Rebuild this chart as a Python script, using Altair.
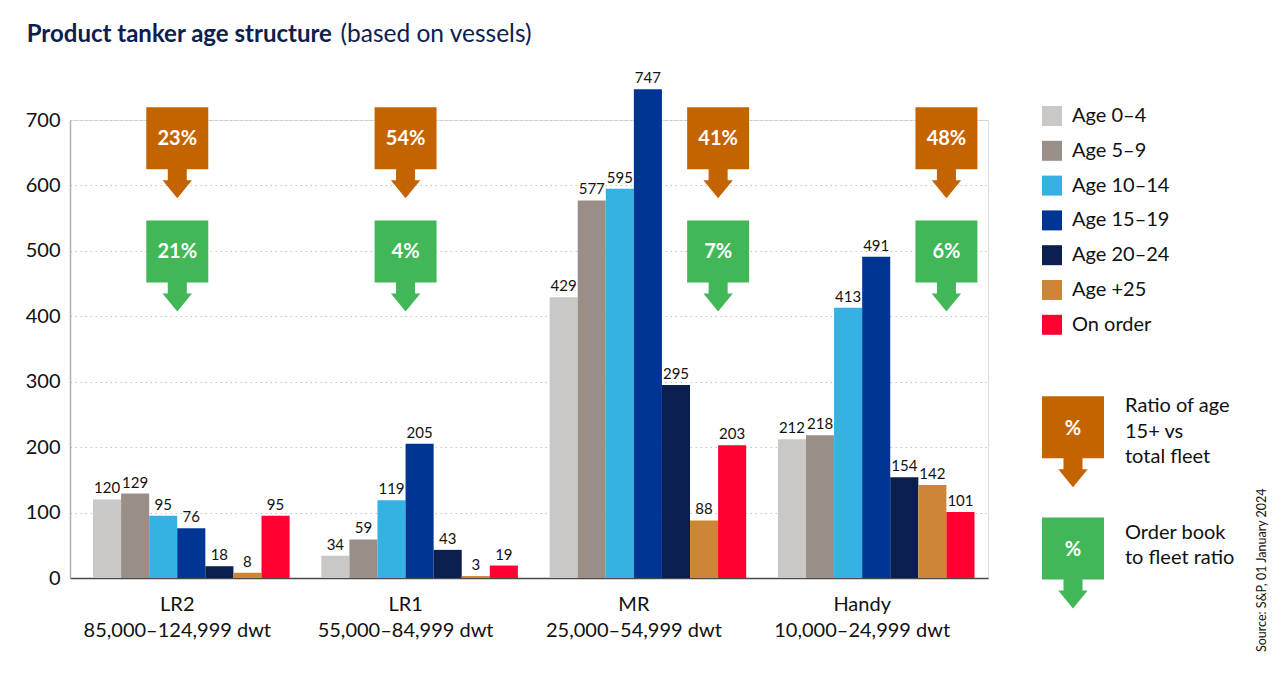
import altair as alt
import pandas as pd

FONT = "Lato"

# ---------------- data ----------------
classes = ["LR2", "LR1", "MR", "Handy"]
dwt_ranges = ["85,000–124,999 dwt", "55,000–84,999 dwt", "25,000–54,999 dwt", "10,000–24,999 dwt"]
series = ["Age 0–4", "Age 5–9", "Age 10–14", "Age 15–19", "Age 20–24", "Age +25", "On order"]
series_colors = ["#c9c8c6", "#9a8f86", "#35b1e4", "#003594", "#0b1f4e", "#cd8538", "#ff0030"]

lr2 = [120, 129, 95, 76, 18, 8, 95]
lr1 = [34, 59, 119, 205, 43, 3, 19]
mr = [429, 577, 595, 747, 295, 88, 203]
handy = [212, 218, 413, 491, 154, 142, 101]
values = [lr2, lr1, mr, handy]

ratio_age15 = ["23%", "54%", "41%", "48%"]
ratio_order = ["21%", "4%", "7%", "6%"]
# bar whose left edge each pair of arrows sits on
arrow_anchor = ["Age 15–19", "Age 15–19", "On order", "On order"]

kinds = ["Ratio of age 15+ vs total fleet", "Order book to fleet ratio"]
kind_colors = ["#c46400", "#41b757"]
key_labels = ["Ratio of age\n15+ vs\ntotal fleet", "Order book\nto fleet ratio"]

title_bold = "Product tanker age structure"
title_rest = "(based on vessels)"
source = "Source: S&P, 01 January 2024"

# ---------------- tables ----------------
labels = [c + "|" + d for c, d in zip(classes, dwt_ranges)]
rows = []
for lab, vals in zip(labels, values):
    for s, v in zip(series, vals):
        rows.append({"label": lab, "series": s, "value": v})
df_bars = pd.DataFrame(rows)

LEVELS = [650, 477]  # vertical anchor of the two arrow rows (data units)
arows = []
for lab, anc, r1, r2 in zip(labels, arrow_anchor, ratio_age15, ratio_order):
    arows.append({"label": lab, "anchor": anc, "kind": kinds[0], "txt": r1, "level": LEVELS[0]})
    arows.append({"label": lab, "anchor": anc, "kind": kinds[1], "txt": r2, "level": LEVELS[1]})
df_arrows = pd.DataFrame(arows)


def arrow_path(shift):
    pts = [(-0.681, -1), (0.681, -1), (0.681, 0.363), (0.209, 0.363), (0.209, 0.604),
           (0.323, 0.604), (0, 1), (-0.323, 0.604), (-0.209, 0.604), (-0.209, 0.363),
           (-0.681, 0.363)]
    return "M" + "L".join(f"{px + shift:.3f},{py:.3f}" for px, py in pts) + "Z"


ARROW_SIZE = 8281            # symbol spans 91 px -> unit = 45.5 px
ARROW_PATH = arrow_path(0)
ARROW_PATH_EDGE = arrow_path(-14 / 45.5)   # centred on the left edge of the anchor bar

x_scale = alt.Scale(domain=labels, paddingInner=0.139, paddingOuter=0.08, align=0.63)
xo_scale = alt.Scale(domain=series, paddingInner=0, paddingOuter=0)
X = alt.X("label:N", sort=labels, scale=x_scale, title=None,
          axis=alt.Axis(labelExpr="split(datum.label, '|')", labelFontSize=20,
                        labelFont=FONT, labelColor="#111111", labelPadding=16,
                        labelLineHeight=26, ticks=False, tickSize=0, labelOffset=-14,
                        labelLimit=400, domainColor="#4a4a4a", domainWidth=1.5,
                        labelAngle=0))
XO = alt.XOffset("series:N", sort=series, scale=xo_scale)
Y = alt.Y("value:Q", scale=alt.Scale(domain=[0, 700], nice=False, zero=True), title=None,
          axis=alt.Axis(values=[0, 100, 200, 300, 400, 500, 600, 700], grid=True,
                        gridDash=[1.5, 3.5], gridColor="#c4c4c4", gridWidth=1,
                        domainColor="#b3afab", domainWidth=1.5, ticks=False,
                        labelPadding=10, labelFontSize=20, labelFont=FONT,
                        labelColor="#111111"))

bars = alt.Chart(df_bars).mark_bar(clip=False).encode(
    x=X, xOffset=XO, y=Y,
    color=alt.Color("series:N", sort=series,
                    scale=alt.Scale(domain=series, range=series_colors),
                    legend=alt.Legend(title=None, orient="none", legendX=972, legendY=-14,
                                      symbolType="square", symbolSize=400,
                                      symbolStrokeWidth=0, labelFontSize=20,
                                      labelFont=FONT, labelColor="#111111",
                                      labelOffset=10, rowPadding=14.8, padding=0,
                                      direction="vertical")),
)

bar_text = alt.Chart(df_bars).mark_text(baseline="alphabetic", dy=-6, fontSize=15,
                                        font=FONT, color="#111111").encode(
    x=alt.X("label:N", sort=labels), xOffset=alt.XOffset("series:N", sort=series),
    y=alt.Y("value:Q"), text="value:Q")

arrows = alt.Chart(df_arrows).mark_point(shape=ARROW_PATH_EDGE, size=ARROW_SIZE, filled=True,
                                         opacity=1, strokeWidth=0).encode(
    x=alt.X("label:N", sort=labels),
    xOffset=alt.XOffset("anchor:N", sort=series),
    y=alt.Y("level:Q"),
    fill=alt.Fill("kind:N", scale=alt.Scale(domain=kinds, range=kind_colors), legend=None))

arrow_text = alt.Chart(df_arrows).mark_text(dx=-14, dy=-14, fontSize=20, fontWeight="bold",
                                            font=FONT, color="white").encode(
    x=alt.X("label:N", sort=labels),
    xOffset=alt.XOffset("anchor:N", sort=series),
    y=alt.Y("level:Q"), text="txt:N")

layers = [bars, bar_text, arrows, arrow_text]

# ---------------- key (right side) ----------------
key_pos = [(1003, 321.7, 292), (1003, 443, 418.7)]
for k, lab, col, (kx, ky, ty) in zip(kinds, key_labels, kind_colors, key_pos):
    kd = pd.DataFrame({"kind": [k], "pct": ["%"], "lab": [lab]})
    layers.append(alt.Chart(kd).mark_point(shape=ARROW_PATH, size=ARROW_SIZE, filled=True,
                                           opacity=1, strokeWidth=0, color=col).encode(
        x=alt.value(kx), y=alt.value(ky)))
    layers.append(alt.Chart(kd).mark_text(fontSize=20, fontWeight="bold", font=FONT,
                                          color="white", dy=-13).encode(
        x=alt.value(kx), y=alt.value(ky), text="pct:N"))
    layers.append(alt.Chart(kd).mark_text(fontSize=20, font=FONT, color="#111111",
                                          align="left", baseline="alphabetic",
                                          lineBreak="\n", lineHeight=25.7).encode(
        x=alt.value(1055), y=alt.value(ty), text="lab:N"))

# ---------------- title & source ----------------
td = pd.DataFrame({"a": [title_bold], "b": [title_rest], "s": [source]})
layers.append(alt.Chart(td).mark_text(fontSize=24, fontWeight="bold", font=FONT,
                                      color="#0c2050", align="left",
                                      baseline="alphabetic").encode(
    x=alt.value(-43.3), y=alt.value(-78), text="a:N"))
layers.append(alt.Chart(td).mark_text(fontSize=24.5, font=FONT, color="#0c2050",
                                      align="left", baseline="alphabetic").encode(
    x=alt.value(270.5), y=alt.value(-78), text="b:N"))
layers.append(alt.Chart(td).mark_text(fontSize=12.5, font=FONT, color="#111111",
                                      align="left", baseline="middle", angle=270).encode(
    x=alt.value(1192), y=alt.value(532), text="s:N"))

chart = alt.layer(*layers).properties(
    width=918, height=458,
    autosize=alt.AutoSizeParams(type="none"),
    padding={"left": 62, "top": 112, "right": 285, "bottom": 91},
).configure_view(stroke=None).configure(font=FONT)

chart.save("out.html", embed_options={"renderer": "svg", "actions": False})
